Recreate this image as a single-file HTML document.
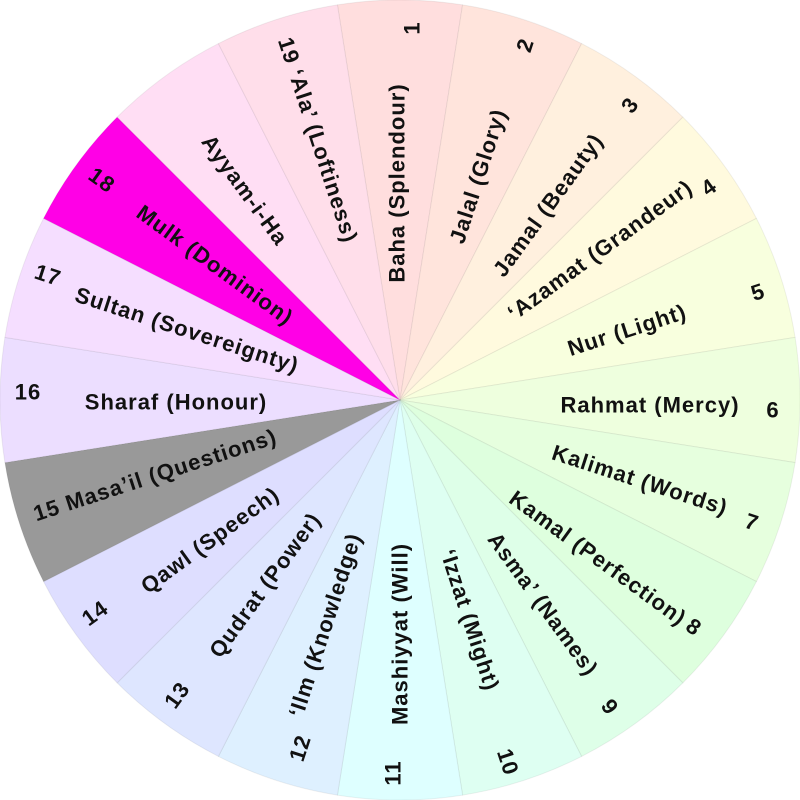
<!DOCTYPE html>
<html><head><meta charset="utf-8"><style>
html,body{margin:0;padding:0;background:#fff}
svg{display:block}
text{font-family:"Liberation Sans","DejaVu Sans",sans-serif;font-size:22px;letter-spacing:1px;fill:#111;font-weight:bold;dominant-baseline:central;text-anchor:middle}
</style></head><body>
<svg width="800" height="800" viewBox="0 0 800 800">
<defs><path id="w" d="M400,400 L337.43,4.92 A400,400 0 0 1 462.57,4.92 Z"/></defs>
<g stroke="rgba(0,0,0,0.06)" stroke-width="1">
<use href="#w" fill="#ffdede" transform="rotate(0 400 400)"/>
<use href="#w" fill="#ffe4dc" transform="rotate(18 400 400)"/>
<use href="#w" fill="#fff0de" transform="rotate(36 400 400)"/>
<use href="#w" fill="#fffade" transform="rotate(54 400 400)"/>
<use href="#w" fill="#f8ffde" transform="rotate(72 400 400)"/>
<use href="#w" fill="#eeffde" transform="rotate(90 400 400)"/>
<use href="#w" fill="#e6ffde" transform="rotate(108 400 400)"/>
<use href="#w" fill="#deffde" transform="rotate(126 400 400)"/>
<use href="#w" fill="#deffe8" transform="rotate(144 400 400)"/>
<use href="#w" fill="#defff2" transform="rotate(162 400 400)"/>
<use href="#w" fill="#deffff" transform="rotate(180 400 400)"/>
<use href="#w" fill="#def0ff" transform="rotate(198 400 400)"/>
<use href="#w" fill="#dee6ff" transform="rotate(216 400 400)"/>
<use href="#w" fill="#dedeff" transform="rotate(234 400 400)"/>
<use href="#w" fill="#999999" transform="rotate(252 400 400)"/>
<use href="#w" fill="#ecdeff" transform="rotate(270 400 400)"/>
<use href="#w" fill="#f5deff" transform="rotate(288 400 400)"/>
<use href="#w" fill="#ff00e6" transform="rotate(306 400 400)"/>
<use href="#w" fill="#ffdef4" transform="rotate(324 400 400)"/>
<use href="#w" fill="#ffdeea" transform="rotate(342 400 400)"/>
</g>
<g>
<text transform="translate(397,183) rotate(-90)">Baha (Splendour)</text>
<text transform="translate(412,28) rotate(-90)">1</text>
<text transform="translate(478,176) rotate(-72)">Jalal (Glory)</text>
<text transform="translate(525,45) rotate(-72)">2</text>
<text transform="translate(548,205) rotate(-54)">Jamal (Beauty)</text>
<text transform="translate(630,105) rotate(-54)">3</text>
<text transform="translate(600,250) rotate(-36)">‘Azamat (Grandeur)</text>
<text transform="translate(709,187) rotate(-36)">4</text>
<text transform="translate(627,330) rotate(-18)">Nur (Light)</text>
<text transform="translate(758,292) rotate(-18)">5</text>
<text transform="translate(650,405)">Rahmat (Mercy)</text>
<text transform="translate(773,410)">6</text>
<text transform="translate(640,480) rotate(18)">Kalimat (Words)</text>
<text transform="translate(752,522) rotate(18)">7</text>
<text transform="translate(598,558) rotate(36)">Kamal (Perfection)</text>
<text transform="translate(694,627) rotate(36)">8</text>
<text transform="translate(543,604) rotate(54)">Asma’ (Names)</text>
<text transform="translate(610,707) rotate(54)">9</text>
<text transform="translate(470,620) rotate(72)">‘Izzat (Might)</text>
<text transform="translate(508,762) rotate(72)">10</text>
<text transform="translate(400,634) rotate(-90)">Mashiyyat (Will)</text>
<text transform="translate(393,773) rotate(-90)">11</text>
<text transform="translate(325,625) rotate(-72)">‘Ilm (Knowledge)</text>
<text transform="translate(300,748) rotate(-72)">12</text>
<text transform="translate(265,585) rotate(-54)">Qudrat (Power)</text>
<text transform="translate(177,695) rotate(-54)">13</text>
<text transform="translate(210,540) rotate(-36)">Qawl (Speech)</text>
<text transform="translate(95,613) rotate(-36)">14</text>
<text transform="translate(155,475) rotate(-18)">15 Masa’il (Questions)</text>
<text transform="translate(176,402)">Sharaf (Honour)</text>
<text transform="translate(28,392)">16</text>
<text transform="translate(187,330) rotate(18)">Sultan (Sovereignty)</text>
<text transform="translate(48,275) rotate(18)">17</text>
<text transform="translate(215,265) rotate(36)">Mulk (Dominion)</text>
<text transform="translate(102,180) rotate(36)">18</text>
<text transform="translate(245,190) rotate(54)">Ayyam-i-Ha</text>
<text transform="translate(318,140) rotate(72)">19 ‘Ala’ (Loftiness)</text>
</g>
</svg>
</body></html>
